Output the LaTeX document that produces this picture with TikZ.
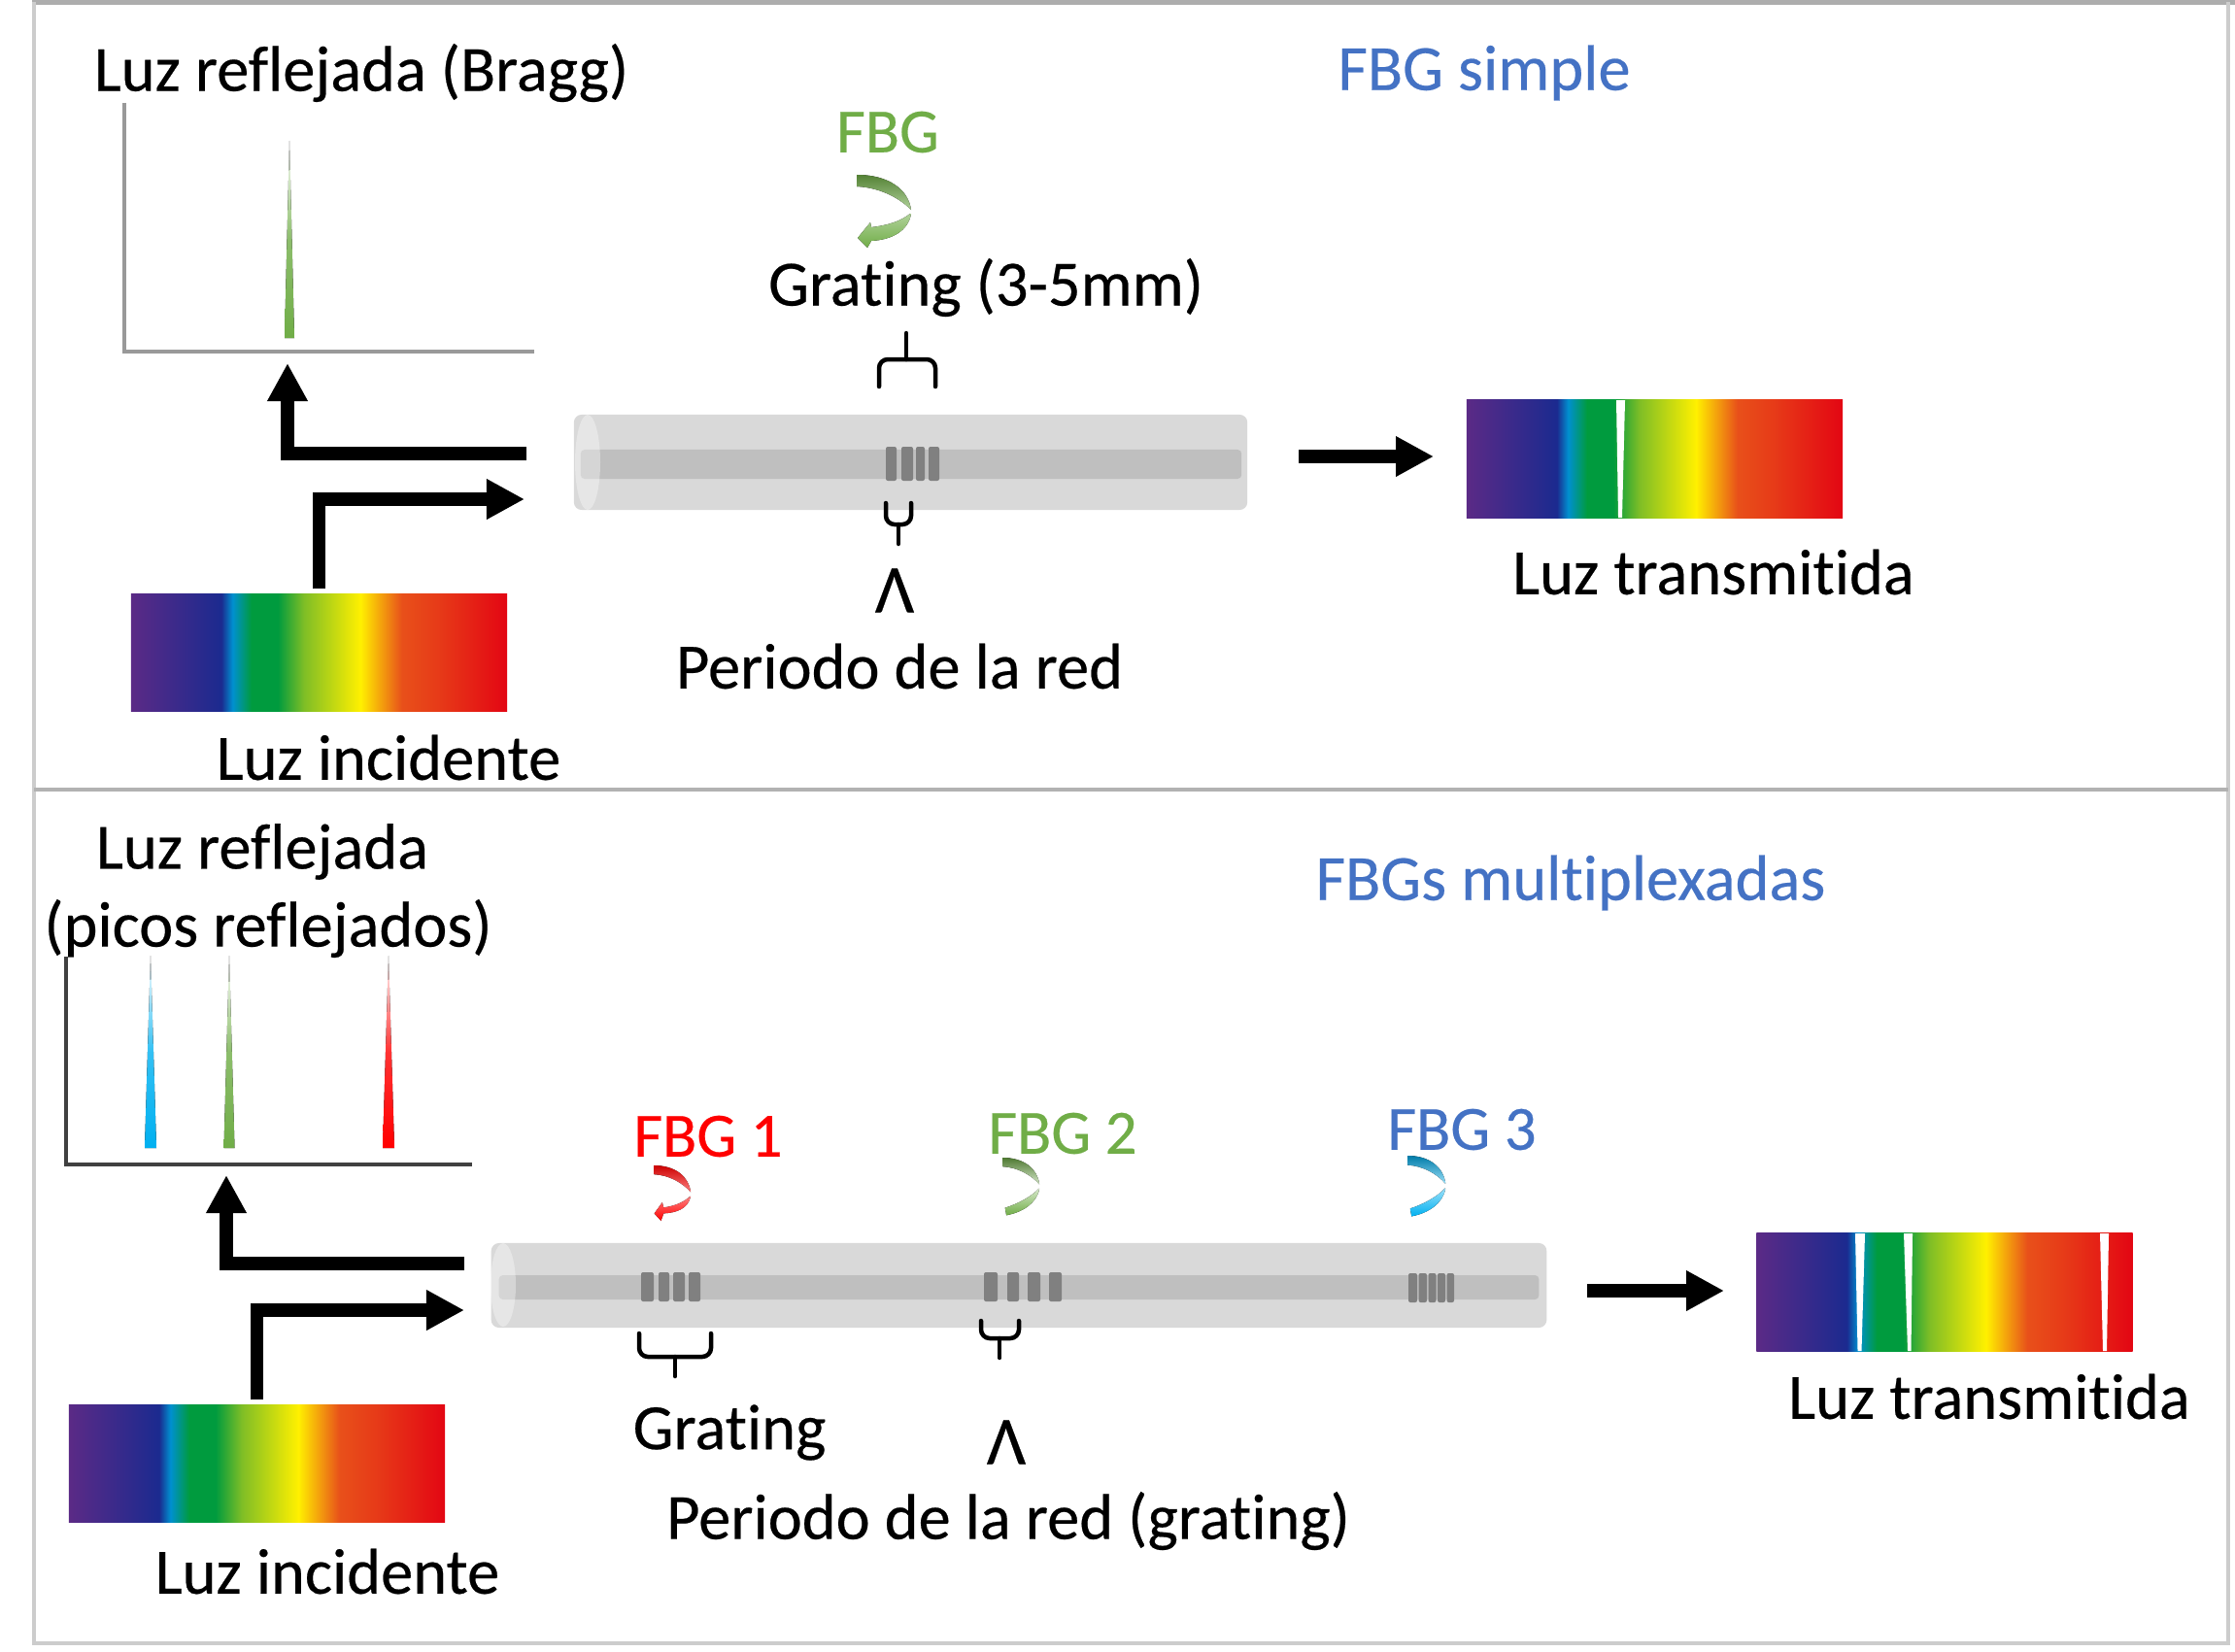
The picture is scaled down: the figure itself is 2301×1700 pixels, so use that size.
\documentclass[tikz,border=0pt]{standalone}
\usepackage{fontspec}
\setmainfont[Ligatures=NoCommon,FakeBold=0.35]{Carlito}
\usetikzlibrary{arrows.meta}

% Spectrum colours
\definecolor{spViolet}{HTML}{5B2A86}
\definecolor{spNavy}{HTML}{1B2A8F}
\definecolor{spBlue}{HTML}{0090D0}
\definecolor{spGreen}{HTML}{009B3E}
\definecolor{spLime}{HTML}{7FBE26}
\definecolor{spYellow}{HTML}{FFF000}
\definecolor{spOrange}{HTML}{E8501A}
\definecolor{spRed}{HTML}{E30613}
\definecolor{fbgGreen}{HTML}{70AD47}
\definecolor{fbgBlue}{HTML}{4472C4}
\definecolor{fbgRed}{HTML}{FF0000}
\definecolor{fbgCyan}{HTML}{00B0F0}

\pgfdeclarehorizontalshading{spectrumfill}{100bp}{
  color(0bp)=(spViolet); color(25bp)=(spViolet);
  color(37bp)=(spNavy); color(38.5bp)=(spBlue); color(41bp)=(spGreen);
  color(44.5bp)=(spGreen); color(48bp)=(spLime);
  color(55.5bp)=(spYellow); color(61bp)=(spOrange); color(66bp)=(spOrange!70!spRed);
  color(75bp)=(spRed); color(100bp)=(spRed)}

\tikzset{
  label text/.style={font=\fontsize{18.9}{20}\selectfont, inner sep=0pt, text=black},
  title text/.style={label text, text=fbgBlue},
  grating text/.style={label text, font=\fontsize{18.4}{20}\selectfont, text=#1},
  lambda text/.style={label text, font=\fontsize{20}{21}\selectfont},
  spectrum/.style={shading=spectrumfill, inner sep=0pt, minimum width=3.87cm},
  fiber/.style={fill=black!15, inner sep=0pt, rounded corners=0.08cm},
  core/.style={fill=black!25, inner sep=0pt, rounded corners=0.04cm},
  bar/.style={fill=black!50, rounded corners=0.02cm},
  fiber cap/.style={fill=white, fill opacity=0.35},
  flow/.style={line width=0.135cm, -{Triangle[length=0.39cm,width=0.39cm]}},
  brace line/.style={line width=0.045cm, line cap=round, rounded corners=0.09cm},
  axis line/.style={line width=0.035cm},
  gap/.style={fill=white}
}

% A peak of the reflected spectrum: #1 centre x, #2 top y, #3 bottom y, #4 half width, #5 colour
\newcommand{\specpeak}[5]{%
  \fill[top color=white, bottom color=#5, middle color=#5!80!white]
    (#1,#2) -- (#1+#4,#3) -- (#1-#4,#3) -- cycle;}

% Upper half of a curved reflection mark, with the gap at its turning point
\newcommand{\curlupper}[2]{%
  \fill[top color=#1, middle color=#1, bottom color=#2]
    (0,0) .. controls (33,0) and (53,15) .. (56,36)
    .. controls (43,23) and (23,13) .. (0,12) -- cycle;}

\begin{document}
\begin{tikzpicture}[x=0.01cm, y=-0.01cm]
\useasboundingbox (0,0) rectangle (2301,1700);
\fill[white] (0,0) rectangle (2301,1700);

% Panel frames
\draw[line width=0.07cm, black!32] (33,2) -- (2301,2);
\draw[line width=0.04cm, black!20] (35,2) -- (35,1692) -- (2294,1692) -- (2294,2);
\draw[line width=0.035cm, black!30] (35,813) -- (2294,813);

%%% Single grating
\node[title text] (titleA) at (1528,75) {FBG simple};
\node[label text] (reflA) at (372,75) {Luz reflejada (Bragg)};

% Reflected spectrum
\coordinate (axA) at (128,106);
\coordinate (oA) at (128,362);
\coordinate (bxA) at (550,362);
\draw[axis line, black!40] (axA) -- (oA) -- (bxA);
\specpeak{298}{145}{348}{5}{fbgGreen}

% Fibre with its grating
\node[fiber, minimum width=6.93cm, minimum height=0.98cm] (fibA) at (937.5,476) {};
\node[core, minimum width=6.8cm, minimum height=0.3cm] (coreA) at (938,478) {};
\fill[fiber cap] (605,476) ellipse (13 and 49);
\foreach \a/\b in {912/923, 928/940, 943/952, 956/967}
  \fill[bar] (\a,460) rectangle (\b,495);

% Grating label and brace
\node[grating text=fbgGreen] (fbgA) at (914,136) {FBG};
\begin{scope}[shift={(882,180)}]
  \curlupper{fbgGreen!75!black}{fbgGreen!55!white}
  \fill[top color=fbgGreen!55!white, middle color=fbgGreen, bottom color=fbgGreen]
    (55,40) .. controls (45,48) and (32,52) .. (15,54) -- (14,49) -- (1,65) -- (11,75) -- (15,68)
    .. controls (36,67) and (53,58) .. (56,40) -- cycle;
\end{scope}
\node[label text] (gratA) at (1015,296) {Grating (3-5mm)};
\draw[brace line] (905,398) -- (905,370) -- (963,370) -- (963,398);
\draw[brace line] (933,370) -- (933,343);

% Period label and brace
\draw[brace line] (912,518) -- (912,540) -- (938,540) -- (938,518);
\draw[brace line] (925,540) -- (925,560);
\node[lambda text] (lamA) at (921,608) {Λ};
\node[label text] (perA) at (926,686) {Periodo de la red};

% Source, transmitted spectrum and light paths
\node[spectrum, minimum height=1.2cm] (srcA) at (328.5,672) {};
\node[label text] (incA) at (400,780) {Luz incidente};
\node[spectrum, minimum height=1.21cm] (outA) at (1703.5,472.5) {};
\fill[gap] (1664,412) -- (1673,412) -- (1670,533) -- (1666,533) -- cycle;
\node[label text] (trsA) at (1764,589) {Luz transmitida};
\coordinate (backA) at (542,467);
\coordinate (tipA) at (296,374);
\coordinate (inA) at (540,514);
\coordinate (exA) at (1337,470);
\coordinate (exB) at (1476,470);
\draw[flow] (backA) -| (tipA);
\draw[flow] (srcA.north) ++(0,-5) |- (inA);
\draw[flow] (exA) -- (exB);

%%% Three multiplexed gratings
\node[title text] (titleB) at (1617,909) {FBGs multiplexadas};
\node[label text] (reflB) at (270,877) {Luz reflejada};
\node[label text] (picB) at (276,956) {(picos reflejados)};

% Reflected spectrum
\coordinate (axB) at (68,985);
\coordinate (oB) at (68,1199);
\coordinate (bxB) at (486,1199);
\draw[axis line, black!75] (axB) -- (oB) -- (bxB);
\specpeak{155}{984}{1182}{6}{fbgCyan}
\specpeak{236}{984}{1182}{5.5}{fbgGreen}
\specpeak{400}{984}{1182}{6}{fbgRed}

% Fibre with its gratings
\node[fiber, minimum width=10.86cm, minimum height=0.87cm] (fibB) at (1049,1323.5) {};
\node[core, minimum width=10.7cm, minimum height=0.25cm] (coreB) at (1049,1325.5) {};
\fill[fiber cap] (518,1323) ellipse (13 and 43);
\foreach \a/\b in {660/673, 678/689, 693/705, 709/721, 1013/1027, 1037/1049, 1058/1071, 1080/1093}
  \fill[bar] (\a,1310) rectangle (\b,1340);
\foreach \a/\b in {1450/1459, 1460.5/1469, 1470.5/1478.5, 1480/1488, 1489.5/1497}
  \fill[bar] (\a,1311) rectangle (\b,1341);

% Grating labels and marks
\node[grating text=fbgRed] (fbg1) at (729,1170) {FBG 1};
\node[grating text=fbgGreen] (fbg2) at (1094,1167) {FBG 2};
\node[grating text=fbgBlue] (fbg3) at (1505,1163) {FBG 3};
\begin{scope}[shift={(673,1200)}, xscale=0.68, yscale=0.76]
  \curlupper{fbgRed!80!black}{fbgRed!50!white}
  \fill[top color=fbgRed!50!white, middle color=fbgRed, bottom color=fbgRed]
    (55,42) .. controls (45,50) and (32,55) .. (15,57) -- (13,50) -- (1,65) -- (11,75) -- (15,65)
    .. controls (36,64) and (52,58) .. (56,42) -- cycle;
\end{scope}
\begin{scope}[shift={(1032,1192)}, xscale=0.68, yscale=0.76]
  \curlupper{fbgGreen!70!black}{fbgGreen!30!white}
  \fill[top color=fbgGreen!30!white, middle color=fbgGreen, bottom color=fbgGreen]
    (55,42) .. controls (45,52) and (25,62) .. (4,68) -- (6,78)
    .. controls (30,74) and (52,62) .. (56,42) -- cycle;
\end{scope}
\begin{scope}[shift={(1449,1190)}, xscale=0.70, yscale=0.80]
  \curlupper{fbgCyan!70!black}{fbgCyan!40!white}
  \fill[top color=fbgCyan!40!white, middle color=fbgCyan, bottom color=fbgCyan]
    (55,42) .. controls (45,52) and (25,62) .. (4,68) -- (6,78)
    .. controls (30,74) and (52,62) .. (56,42) -- cycle;
\end{scope}

% Braces below the fibre
\draw[brace line] (658,1373) -- (658,1397) -- (732,1397) -- (732,1373);
\draw[brace line] (695,1397) -- (695,1417);
\draw[brace line] (1010,1360) -- (1010,1378) -- (1049,1378) -- (1049,1360);
\draw[brace line] (1029,1378) -- (1029,1398);
\node[label text] (gratB) at (751,1475) {Grating};
\node[lambda text] (lamB) at (1036,1485) {Λ};
\node[label text] (perB) at (1038,1566) {Periodo de la red (grating)};

% Source, transmitted spectrum and light paths
\node[spectrum, minimum height=1.2cm] (srcB) at (264.5,1507) {};
\node[label text] (incB) at (337,1618) {Luz incidente};
\node[spectrum, minimum height=1.21cm] (outB) at (2002,1330.5) {};
\fill[gap] (1910,1270) -- (1920,1270) -- (1916.5,1391) -- (1912.5,1391) -- cycle;
\fill[gap] (1960,1270) -- (1969,1270) -- (1967.5,1391) -- (1964,1391) -- cycle;
\fill[gap] (2162,1270) -- (2171,1270) -- (2169,1391) -- (2165,1391) -- cycle;
\node[label text] (trsB) at (2048,1438) {Luz transmitida};
\coordinate (backB) at (478,1301);
\coordinate (tipB) at (233,1210);
\coordinate (inB) at (478,1349);
\coordinate (exC) at (1634,1329);
\coordinate (exD) at (1775,1329);
\draw[flow] (backB) -| (tipB);
\draw[flow] (srcB.north) ++(0,-5) |- (inB);
\draw[flow] (exC) -- (exD);
\end{tikzpicture}
\end{document}
